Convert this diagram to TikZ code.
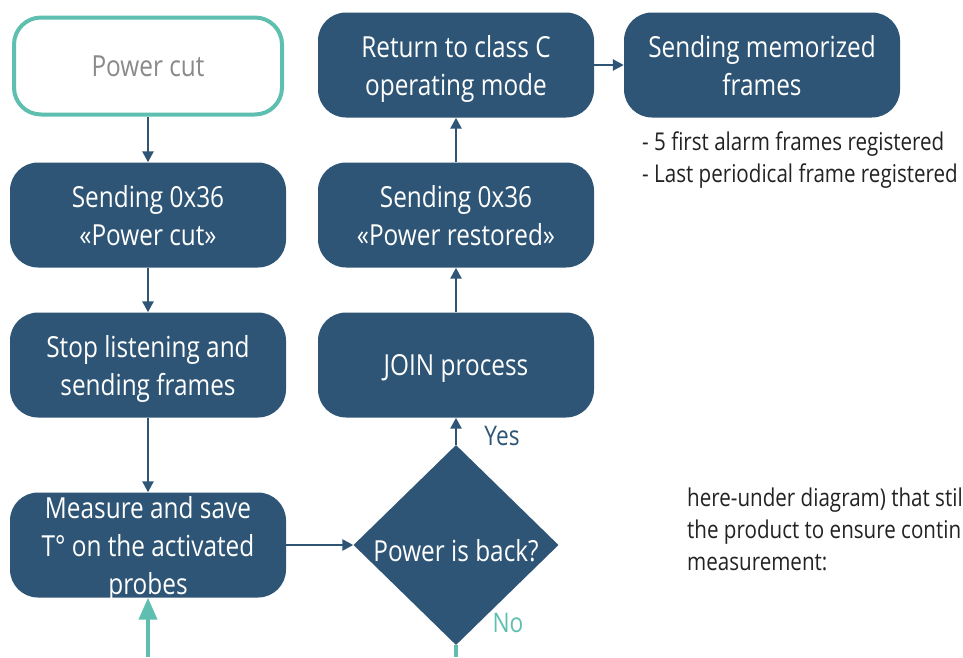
\documentclass[tikz,border=0pt]{standalone}
\usepackage{fontspec}
\setmainfont[FakeStretch=0.84]{Open Sans}
\usetikzlibrary{shapes.geometric,arrows.meta}
\definecolor{dblue}{HTML}{2E5575}
\definecolor{teal2}{HTML}{5EBFB0}
\definecolor{gtext}{HTML}{8A8A8A}
\definecolor{btext}{HTML}{222222}
\begin{document}
\begin{tikzpicture}[x=1pt,y=-1pt,
  box/.style={rectangle, rounded corners=28pt, fill=dblue, text=white,
    minimum width=276pt, minimum height=105pt, inner sep=0pt, align=center,
    text depth=-3pt, font=\fontsize{29}{38}\selectfont},
  startbox/.style={rectangle, rounded corners=27pt, draw=teal2, line width=4pt, fill=white,
    text=gtext, minimum width=268pt, minimum height=97pt, align=center,
    font=\fontsize{29}{38}\selectfont},
  arr/.style={draw=dblue, line width=2.5pt, -{Triangle[length=11pt,width=11pt]}},
  tarr/.style={draw=teal2, line width=4pt, -{Triangle[length=22pt,width=18pt]}},
  note/.style={text=btext, anchor=west, align=left, inner sep=0pt, font=\fontsize{24.5}{31.5}\selectfont}
]
\useasboundingbox (0,0) rectangle (963,657);
\node[startbox] (pc) at (148,66) {Power cut};
\node[box] (s1) at (148,215) {Sending 0x36\\«Power cut»};
\node[box] (stop) at (148,365) {Stop listening and\\sending frames};
\node[box] (meas) at (148,545) {Measure and save\\T° on the activated\\probes};
\node[diamond, fill=dblue, minimum width=205pt, minimum height=200pt, inner sep=0pt,
  label={[text=white, yshift=-6pt, font=\fontsize{29}{38}\selectfont]center:Power is back?}] (dia) at (456,545) {};
\node[box] (join) at (456,365) {JOIN process};
\node[box] (s2) at (456,215) {Sending 0x36\\«Power restored»};
\node[box] (ret) at (456,65) {Return to class C\\operating mode};
\node[box] (mem) at (762,65) {Sending memorized\\frames};

\coordinate (b1) at (148,657);
\coordinate (b2) at (456,657);

\draw[arr] (pc) -- (s1);
\draw[arr] (s1) -- (stop);
\draw[arr] (stop) -- (meas);
\draw[arr] (meas) -- (dia);
\draw[arr] (dia.north) -- (join.south);
\draw[arr] (join) -- (s2);
\draw[arr] (s2) -- (ret);
\draw[arr] (ret) -- (mem);
\draw[tarr] (b1) -- (meas.south);
\draw[teal2, line width=4pt] (dia.south) -- (b2);

\node[text=dblue, font=\fontsize{27}{30}\selectfont, inner sep=0pt] (yes) at (502,436) {Yes};
\node[text=teal2, font=\fontsize{27}{30}\selectfont, inner sep=0pt] (no) at (508,623) {No};

\node[note] (n1) at (642,160) {- 5 first alarm frames registered\\- Last periodical frame registered};
\node[note, font=\fontsize{24.5}{32}\selectfont] (n2) at (687,529) {here-under diagram) that stil\\the product to ensure contin\\measurement:};
\end{tikzpicture}
\end{document}
